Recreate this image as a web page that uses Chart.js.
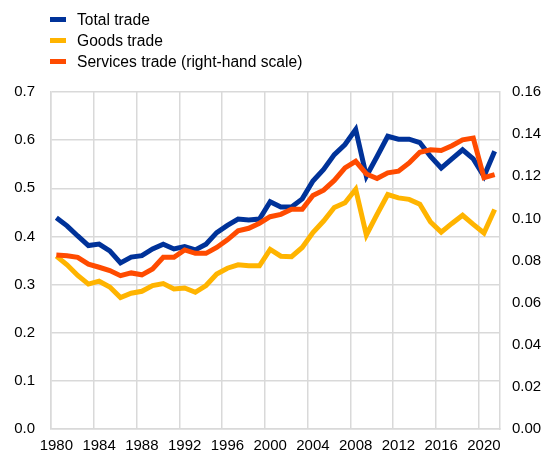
<!DOCTYPE html>
<html>
<head>
<meta charset="utf-8">
<script src="https://cdn.jsdelivr.net/npm/chart.js@4/dist/chart.umd.min.js"></script>
<style>
  html, body { margin: 0; padding: 0; background: #fff; }
  #wrap { position: relative; width: 546px; height: 454px; }
  #chartCanvas { display: block; }
  #legend { position: absolute; left: 50px; top: 9px; font-family: "Liberation Sans", Arial, sans-serif; font-size: 15.6px; color: #000; }
  .item { height: 21px; line-height: 21px; white-space: nowrap; }
  .box { display: inline-block; width: 16px; height: 5px; vertical-align: middle; margin-right: 11px; position: relative; top: -1px; }
</style>
</head>
<body>
<div id="wrap">
  <canvas id="chartCanvas" width="546" height="454"></canvas>
  <div id="legend"></div>
</div>
<script>
// years 1980-2021
const years = [];
for (let y = 1980; y <= 2021; y++) years.push(String(y));

const seriesNames = ["Total trade", "Goods trade", "Services trade (right-hand scale)"];
const seriesColors = ["#003299", "#ffb400", "#ff4b00"];

// left-hand scale
const totalTrade = [
  0.439, 0.422, 0.401, 0.381, 0.384, 0.370, 0.345, 0.357, 0.360, 0.374,
  0.384, 0.374, 0.379, 0.372, 0.384, 0.408, 0.423, 0.436, 0.434, 0.436,
  0.472, 0.461, 0.461, 0.478, 0.515, 0.539, 0.570, 0.591, 0.622, 0.525,
  0.566, 0.608, 0.602, 0.602, 0.595, 0.566, 0.542, 0.561, 0.580, 0.561,
  0.525, 0.577
];
const goodsTrade = [
  0.359, 0.341, 0.319, 0.301, 0.307, 0.295, 0.273, 0.282, 0.286, 0.298,
  0.302, 0.291, 0.293, 0.284, 0.298, 0.322, 0.334, 0.341, 0.339, 0.339,
  0.373, 0.359, 0.358, 0.377, 0.408, 0.432, 0.460, 0.470, 0.498, 0.403,
  0.446, 0.487, 0.480, 0.477, 0.467, 0.430, 0.409, 0.427, 0.444, 0.425,
  0.407, 0.456
];
// right-hand scale
const servicesTrade = [
  0.0826, 0.0823, 0.0815, 0.0783, 0.0768, 0.0752, 0.0728, 0.0741, 0.0732, 0.0760,
  0.0815, 0.0815, 0.0850, 0.0834, 0.0834, 0.0862, 0.0898, 0.0941, 0.0953, 0.0977,
  0.1008, 0.1019, 0.1043, 0.1043, 0.1109, 0.1134, 0.1180, 0.1240, 0.1271, 0.1211,
  0.1189, 0.1216, 0.1224, 0.1263, 0.1314, 0.1326, 0.1322, 0.1345, 0.1373, 0.1381,
  0.1193, 0.1208
];

const leftTicks = [0, 0.1, 0.2, 0.3, 0.4, 0.5, 0.6, 0.7];
const rightTicks = [0, 0.02, 0.04, 0.06, 0.08, 0.10, 0.12, 0.14, 0.16];

const gridColor = "#d9d9d9";
const font = { family: "'Liberation Sans', Arial, sans-serif", size: 15 };

// html legend
const legendEl = document.getElementById("legend");
seriesNames.forEach((name, i) => {
  const row = document.createElement("div");
  row.className = "item";
  row.innerHTML = '<span class="box" style="background:' + seriesColors[i] + '"></span>' + name;
  legendEl.appendChild(row);
});

const ctx = document.getElementById("chartCanvas").getContext("2d");

new Chart(ctx, {
  type: "line",
  data: {
    labels: years,
    datasets: [
      { label: seriesNames[0], data: totalTrade, yAxisID: "y", borderColor: seriesColors[0], order: 2 },
      { label: seriesNames[1], data: goodsTrade, yAxisID: "y", borderColor: seriesColors[1], order: 3 },
      { label: seriesNames[2], data: servicesTrade, yAxisID: "y2", borderColor: seriesColors[2], order: 1 },
    ],
  },
  options: {
    responsive: false,
    animation: false,
    events: [],
    layout: { padding: { top: 92, left: 0, right: 0, bottom: 0 } },
    elements: {
      line: { borderWidth: 5, tension: 0, fill: false },
      point: { radius: 0 },
    },
    plugins: { legend: { display: false }, tooltip: { enabled: false } },
    scales: {
      x: {
        type: "category",
        offset: true,
        afterFit: (s) => { s.height = 23; },
        grid: {
          offset: true,
          drawTicks: false,
          lineWidth: 1.5,
          color: (c) => (c.index % 4 === 0 || c.index === years.length ? gridColor : "rgba(0,0,0,0)"),
        },
        border: { display: true, color: gridColor, width: 1.5 },
        ticks: {
          autoSkip: false,
          maxRotation: 0,
          padding: 8,
          color: "#000",
          font: font,
          callback: (v, i) => (i % 4 === 0 ? years[i] : ""),
        },
      },
      y: {
        position: "left",
        min: 0,
        max: 0.7,
        afterFit: (s) => { s.width = 51; },
        afterBuildTicks: (s) => { s.ticks = leftTicks.map((v) => ({ value: v })); },
        grid: { drawTicks: false, color: gridColor, lineWidth: 1.5 },
        border: { display: true, color: gridColor, width: 1.5 },
        ticks: { padding: 16, color: "#000", font: font, callback: (v) => v.toFixed(1) },
      },
      y2: {
        position: "right",
        min: 0,
        max: 0.16,
        afterFit: (s) => { s.width = 46; },
        afterBuildTicks: (s) => { s.ticks = rightTicks.map((v) => ({ value: v })); },
        grid: { display: false, drawTicks: false },
        border: { display: true, color: gridColor, width: 1.5 },
        ticks: { padding: 12, color: "#000", font: font, callback: (v) => v.toFixed(2) },
      },
    },
  },
});
</script>
</body>
</html>
